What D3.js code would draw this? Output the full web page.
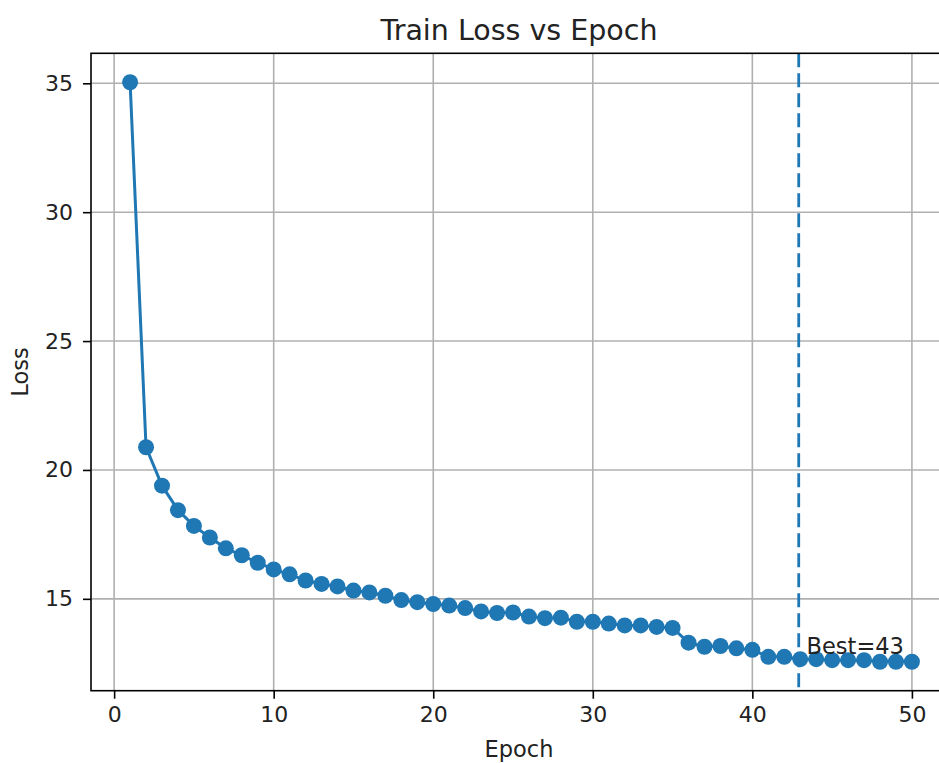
<!DOCTYPE html>
<html>
<head>
<meta charset="utf-8">
<script src="https://cdn.jsdelivr.net/npm/d3@7"></script>
<style>
  body { margin: 0; background: #fff; }
  svg { display: block; font-family: "DejaVu Sans", sans-serif; }
</style>
</head>
<body>
<div id="graph"></div>
<script>
// data
const epochs = d3.range(1, 51);
const trainLoss = [
  35.04, 20.88, 19.39, 18.44, 17.83, 17.38, 16.96, 16.69, 16.40, 16.14,
  15.95, 15.71, 15.58, 15.48, 15.32, 15.25, 15.12, 14.95, 14.87, 14.80,
  14.74, 14.64, 14.51, 14.45, 14.47, 14.31, 14.25, 14.27, 14.11, 14.11,
  14.04, 13.97, 13.97, 13.91, 13.87, 13.30, 13.14, 13.17, 13.08, 13.02,
  12.75, 12.75, 12.66, 12.66, 12.62, 12.62, 12.62, 12.56, 12.56, 12.56
];
const xTicks = [0, 10, 20, 30, 40, 50];
const yTicks = [15, 20, 25, 30, 35];
const bestEpoch = 43;

const width = 939;
const height = 763;
const M = { left: 91, right: 951, top: 53.3, bottom: 690.7 };
const BLUE = '#1f77b4';

const points = epochs.map((e, i) => ({ epoch: e, loss: trainLoss[i] }));

// matplotlib-style 5% margins
const xPad = (d3.max(epochs) - d3.min(epochs)) * 0.05;
const yMin = d3.min(trainLoss), yMax = d3.max(trainLoss);
const yPad = (yMax - yMin) * 0.05;

const x = d3.scaleLinear()
    .domain([d3.min(epochs) - xPad, d3.max(epochs) + xPad])
    .range([M.left, M.right]);
const y = d3.scaleLinear()
    .domain([yMin - yPad, yMax + yPad])
    .range([M.bottom, M.top]);

const svg = d3.select('#graph')
    .append('svg')
    .attr('width', width)
    .attr('height', height);

// grid
svg.append('g')
    .selectAll('line')
    .data(xTicks)
    .enter()
    .append('line')
    .attr('x1', d => x(d)).attr('x2', d => x(d))
    .attr('y1', M.top).attr('y2', M.bottom)
    .attr('stroke', '#b0b0b0')
    .attr('stroke-width', 1.6);

svg.append('g')
    .selectAll('line')
    .data(yTicks)
    .enter()
    .append('line')
    .attr('x1', M.left).attr('x2', M.right)
    .attr('y1', d => y(d)).attr('y2', d => y(d))
    .attr('stroke', '#b0b0b0')
    .attr('stroke-width', 1.6);

// axes
const xAxis = svg.append('g')
    .attr('transform', `translate(0, ${M.bottom})`)
    .call(d3.axisBottom(x).tickValues(xTicks).tickSize(8).tickPadding(8).tickSizeOuter(0));
const yAxis = svg.append('g')
    .attr('transform', `translate(${M.left}, 0)`)
    .call(d3.axisLeft(y).tickValues(yTicks).tickSize(8).tickPadding(10).tickSizeOuter(0));

[xAxis, yAxis].forEach(ax => {
    ax.select('.domain').remove();
    ax.selectAll('line').attr('stroke', '#000').attr('stroke-width', 1.6);
    ax.selectAll('text')
        .attr('fill', '#222')
        .style('font-size', '22px')
        .style('font-family', '"DejaVu Sans", sans-serif');
});

// line + markers
svg.append('path')
    .datum(points)
    .attr('fill', 'none')
    .attr('stroke', BLUE)
    .attr('stroke-width', 3)
    .attr('d', d3.line().x(d => x(d.epoch)).y(d => y(d.loss)));

svg.append('g')
    .selectAll('circle')
    .data(points)
    .enter()
    .append('circle')
    .attr('cx', d => x(d.epoch))
    .attr('cy', d => y(d.loss))
    .attr('r', 8)
    .attr('fill', BLUE);

// best epoch marker
svg.append('line')
    .attr('x1', x(bestEpoch) - 1.5).attr('x2', x(bestEpoch) - 1.5)
    .attr('y1', M.top).attr('y2', M.bottom)
    .attr('stroke', BLUE)
    .attr('stroke-width', 2.8)
    .attr('stroke-dasharray', '14,6');

svg.append('text')
    .text(`Best=${bestEpoch}`)
    .attr('x', x(bestEpoch + 0.4))
    .attr('y', y(trainLoss[bestEpoch - 1] + 0.2))
    .attr('fill', '#222')
    .style('font-size', '22.5px');

// frame
svg.append('rect')
    .attr('x', M.left).attr('y', M.top)
    .attr('width', M.right - M.left).attr('height', M.bottom - M.top)
    .attr('fill', 'none')
    .attr('stroke', '#000')
    .attr('stroke-width', 1.6);

// labels
svg.append('text')
    .text('Train Loss vs Epoch')
    .attr('x', (M.left + M.right) / 2 - 2)
    .attr('y', 40)
    .attr('text-anchor', 'middle')
    .attr('fill', '#222')
    .style('font-size', '28.5px');

svg.append('text')
    .text('Epoch')
    .attr('x', (M.left + M.right) / 2 - 2)
    .attr('y', 757)
    .attr('text-anchor', 'middle')
    .attr('fill', '#222')
    .style('font-size', '22.5px');

svg.append('text')
    .text('Loss')
    .attr('transform', `translate(28, ${(M.top + M.bottom) / 2}) rotate(-90)`)
    .attr('text-anchor', 'middle')
    .attr('fill', '#222')
    .style('font-size', '22.5px');
</script>
</body>
</html>
